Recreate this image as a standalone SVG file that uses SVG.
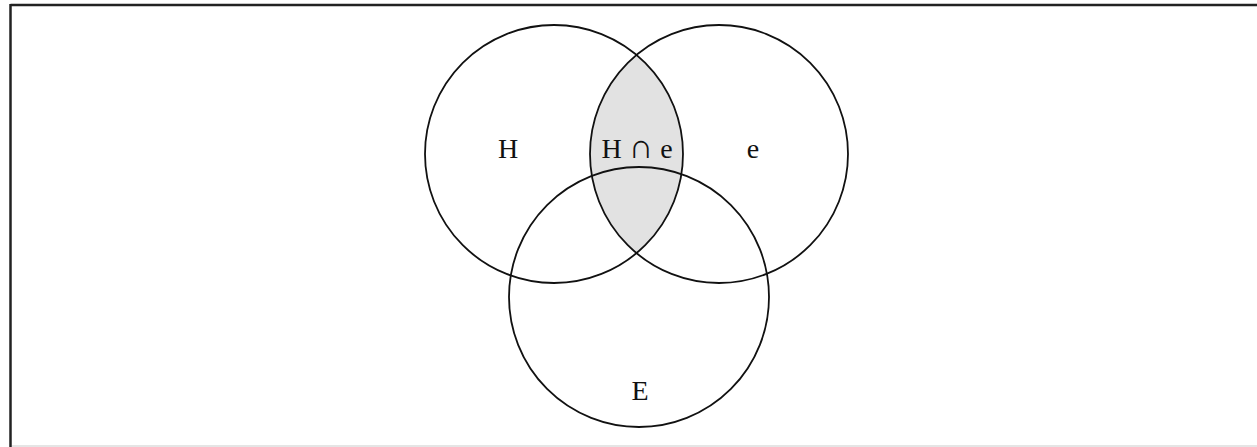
<svg xmlns="http://www.w3.org/2000/svg" width="1257" height="447" viewBox="0 0 1257 447">
<style>
.c{fill:none;stroke:#111;stroke-width:1.8}
.t{font-family:"Liberation Serif",serif;font-size:28px;fill:#111}
</style>
<defs>
<clipPath id="clipH"><circle cx="554" cy="154" r="129"/></clipPath>
</defs>
<rect width="1257" height="447" fill="#fff"/>
<g id="frame">
<line x1="10.5" y1="5" x2="1257" y2="5" stroke="#222" stroke-width="2.5"/>
<line x1="10.5" y1="4" x2="10.5" y2="447" stroke="#222" stroke-width="2.5"/>
<line x1="12" y1="446" x2="1257" y2="446" stroke="#ddd" stroke-width="1.5"/>
</g>
<g id="lens">
<circle cx="719" cy="154" r="129" fill="#e2e2e2" clip-path="url(#clipH)"/>
</g>
<g id="H">
<circle class="c" cx="554" cy="154" r="129"/>
<text class="t" x="508" y="158" text-anchor="middle">H</text>
</g>
<g id="e">
<circle class="c" cx="719" cy="154" r="129"/>
<text class="t" x="753" y="158" text-anchor="middle">e</text>
</g>
<g id="E">
<circle class="c" cx="639" cy="297" r="130"/>
<text class="t" x="640" y="400" text-anchor="middle">E</text>
</g>
<g id="HE">
<text class="t" x="637" y="158" text-anchor="middle">H <tspan font-size="34">∩</tspan> e</text>
</g>
</svg>
